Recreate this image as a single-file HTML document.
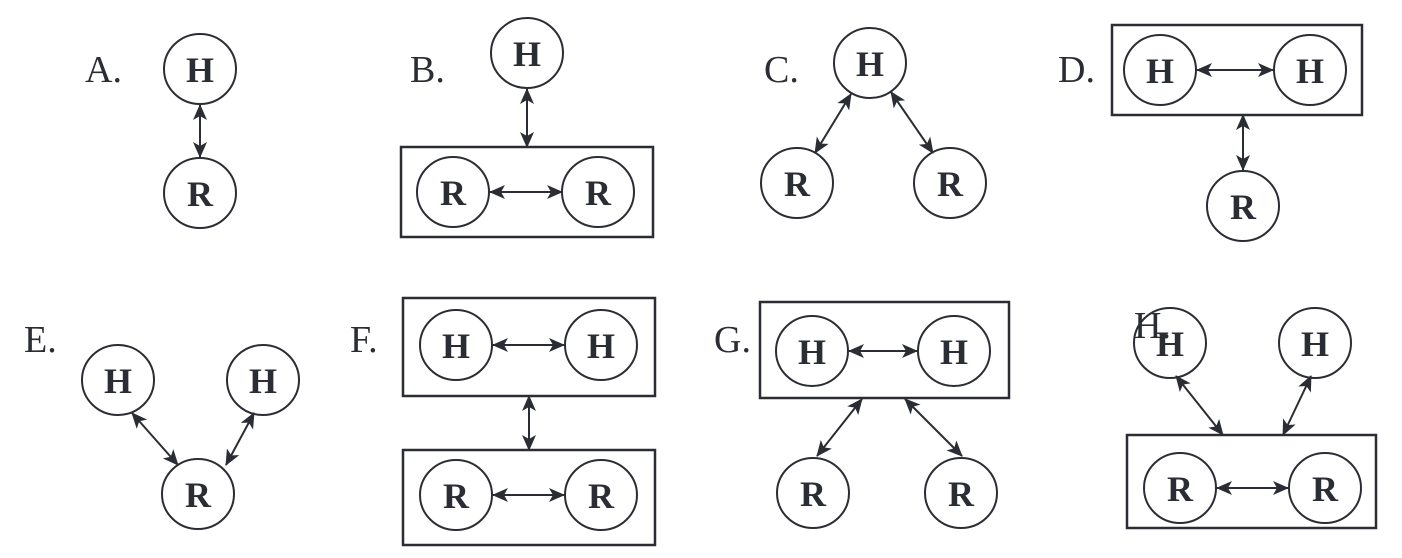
<!DOCTYPE html>
<html><head><style>
html,body{margin:0;padding:0;background:#fff;}
svg{display:block;}
text{font-family:"Liberation Serif",serif;fill:#2a2d33;}
.n{font-weight:bold;font-size:36px;text-anchor:middle;}
.l{font-size:38px;}
</style></head><body>
<svg width="1402" height="558" viewBox="0 0 1402 558" xmlns="http://www.w3.org/2000/svg">
<defs>
<marker id="a" markerUnits="userSpaceOnUse" markerWidth="16" markerHeight="14" refX="15" refY="7" orient="auto-start-reverse"><path d="M0,0 L16,7 L0,14 L4,7 Z" fill="#2a2d33"/></marker>
</defs>
<g stroke="#2a2d33" fill="none">
<g stroke-width="2.5">
<rect x="401" y="147" width="252" height="90"/>
<rect x="1112" y="25" width="250" height="90"/>
<rect x="403" y="298" width="252" height="98"/>
<rect x="403" y="450" width="252" height="95"/>
<rect x="760" y="302" width="249" height="96"/>
<rect x="1127" y="435" width="249" height="93"/>
</g>
<g stroke-width="2">
<ellipse cx="200" cy="69" rx="36" ry="35"/><ellipse cx="200" cy="193" rx="36" ry="35"/>
<ellipse cx="527" cy="53" rx="36" ry="35"/><ellipse cx="453" cy="192" rx="36" ry="35"/><ellipse cx="598" cy="192" rx="36" ry="35"/>
<ellipse cx="870" cy="63" rx="36" ry="35"/><ellipse cx="797" cy="183" rx="36" ry="35"/><ellipse cx="950" cy="183" rx="36" ry="35"/>
<ellipse cx="1160" cy="70" rx="36" ry="35"/><ellipse cx="1310" cy="70" rx="36" ry="35"/><ellipse cx="1243" cy="206" rx="36" ry="35"/>
<ellipse cx="118" cy="380" rx="36" ry="35"/><ellipse cx="263" cy="380" rx="36" ry="35"/><ellipse cx="198" cy="494" rx="36" ry="35"/>
<ellipse cx="456" cy="345" rx="36" ry="35"/><ellipse cx="601" cy="345" rx="36" ry="35"/>
<ellipse cx="456" cy="495" rx="36" ry="35"/><ellipse cx="601" cy="495" rx="36" ry="35"/>
<ellipse cx="812" cy="351" rx="36" ry="35"/><ellipse cx="954" cy="351" rx="36" ry="35"/>
<ellipse cx="813" cy="493" rx="36" ry="35"/><ellipse cx="961" cy="493" rx="36" ry="35"/>
<ellipse cx="1170" cy="343" rx="36" ry="35"/><ellipse cx="1315" cy="343" rx="36" ry="35"/>
<ellipse cx="1180" cy="488" rx="36" ry="35"/><ellipse cx="1325" cy="488" rx="36" ry="35"/>
<!-- arrows -->
<line x1="200" y1="105" x2="200" y2="157" marker-start="url(#a)" marker-end="url(#a)"/>
<line x1="527" y1="89" x2="527" y2="147" marker-start="url(#a)" marker-end="url(#a)"/>
<line x1="490" y1="192" x2="562" y2="192" marker-start="url(#a)" marker-end="url(#a)"/>
<line x1="851" y1="94" x2="815" y2="153" marker-start="url(#a)" marker-end="url(#a)"/>
<line x1="891" y1="92" x2="933" y2="153" marker-start="url(#a)" marker-end="url(#a)"/>
<line x1="1197" y1="70" x2="1273" y2="70" marker-start="url(#a)" marker-end="url(#a)"/>
<line x1="1243" y1="115" x2="1243" y2="170" marker-start="url(#a)" marker-end="url(#a)"/>
<line x1="132" y1="413" x2="178" y2="465" marker-start="url(#a)" marker-end="url(#a)"/>
<line x1="254" y1="413" x2="226" y2="465" marker-start="url(#a)" marker-end="url(#a)"/>
<line x1="493" y1="345" x2="564" y2="345" marker-start="url(#a)" marker-end="url(#a)"/>
<line x1="529" y1="396" x2="529" y2="450" marker-start="url(#a)" marker-end="url(#a)"/>
<line x1="493" y1="495" x2="564" y2="495" marker-start="url(#a)" marker-end="url(#a)"/>
<line x1="849" y1="351" x2="917" y2="351" marker-start="url(#a)" marker-end="url(#a)"/>
<line x1="862" y1="399" x2="817" y2="456" marker-start="url(#a)" marker-end="url(#a)"/>
<line x1="905" y1="399" x2="962" y2="456" marker-start="url(#a)" marker-end="url(#a)"/>
<line x1="1176" y1="376" x2="1223" y2="435" marker-start="url(#a)" marker-end="url(#a)"/>
<line x1="1311" y1="376" x2="1283" y2="435" marker-start="url(#a)" marker-end="url(#a)"/>
<line x1="1217" y1="488" x2="1288" y2="488" marker-start="url(#a)" marker-end="url(#a)"/>
</g>
</g>
<g class="n">
<text x="200" y="82">H</text><text x="200" y="206">R</text>
<text x="527" y="66">H</text><text x="453" y="205">R</text><text x="598" y="205">R</text>
<text x="870" y="76">H</text><text x="797" y="196">R</text><text x="950" y="196">R</text>
<text x="1160" y="83">H</text><text x="1310" y="83">H</text><text x="1243" y="219">R</text>
<text x="118" y="393">H</text><text x="263" y="393">H</text><text x="198" y="507">R</text>
<text x="456" y="358">H</text><text x="601" y="358">H</text><text x="456" y="508">R</text><text x="601" y="508">R</text>
<text x="812" y="364">H</text><text x="954" y="364">H</text><text x="813" y="506">R</text><text x="961" y="506">R</text>
<text x="1170" y="356">H</text><text x="1315" y="356">H</text><text x="1180" y="501">R</text><text x="1325" y="501">R</text>
</g>
<g class="l">
<text x="85" y="82">A.</text>
<text x="410" y="82">B.</text>
<text x="764" y="82">C.</text>
<text x="1058" y="82">D.</text>
<text x="24" y="352">E.</text>
<text x="350" y="352">F.</text>
<text x="714" y="352">G.</text>
<text x="1134" y="338">H.</text>
</g>
</svg>
</body></html>
